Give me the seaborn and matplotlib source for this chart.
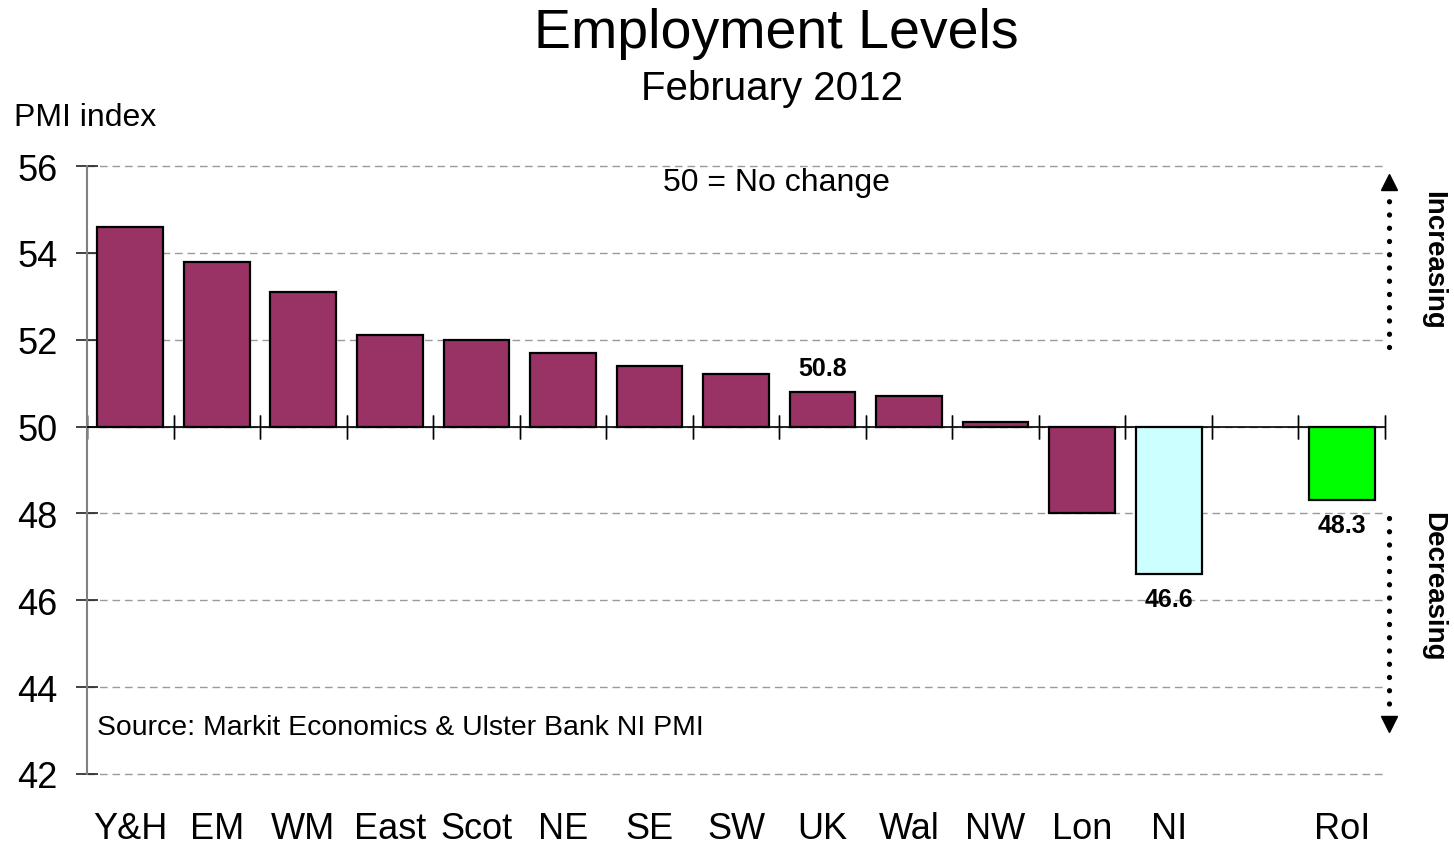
import matplotlib
matplotlib.use("Agg")
import matplotlib.pyplot as plt
import seaborn as sns
import pandas as pd
import numpy as np
from matplotlib.ticker import FuncFormatter, NullFormatter

# ---- data ----
regions = ["Y&H", "EM", "WM", "East", "Scot", "NE", "SE", "SW", "UK", "Wal", "NW", "Lon", "NI", "RoI"]
values = [54.6, 53.8, 53.1, 52.1, 52.0, 51.7, 51.4, 51.2, 50.8, 50.7, 50.1, 48.0, 46.6, 48.3]
slot_order = ["Y&H", "EM", "WM", "East", "Scot", "NE", "SE", "SW", "UK", "Wal", "NW", "Lon", "NI", " ", "RoI"]
labelled = {"UK": 50.8, "NI": 46.6, "RoI": 48.3}
baseline = 50
y_ticks = [42, 44, 46, 48, 50, 52, 54, 56]

# ---- style ----
bar_colors = {r: "#993366" for r in regions}
bar_colors["NI"] = "#CCFFFF"
bar_colors["RoI"] = "#00FF00"

sns.set_theme(style="white")
plt.rcParams["font.family"] = ["Liberation Sans", "DejaVu Sans"]
plt.rcParams["text.color"] = "black"
plt.rcParams["xtick.color"] = "black"
plt.rcParams["ytick.color"] = "black"
plt.rcParams["axes.labelcolor"] = "black"

df = pd.DataFrame({"region": regions, "value": values})
df["dev"] = df["value"] - baseline

W, H = 1454, 845
fig = plt.figure(figsize=(W / 100, H / 100), dpi=100)
ax = fig.add_axes([87 / W, 1 - 775 / H, (1385 - 87) / W, (775 - 167) / H])

sns.barplot(data=df, x="region", y="dev", hue="region", order=slot_order,
            palette=bar_colors, saturation=1, width=0.76, edgecolor="black", linewidth=1.6,
            legend=False, ax=ax, zorder=3)

ylo, yhi = y_ticks[0] - baseline, y_ticks[-1] - baseline
ax.set_ylim(ylo, yhi)
ax.set_xlim(-0.5, len(slot_order) - 0.5)
ax.set_yticks([t - baseline for t in y_ticks])
ax.yaxis.set_major_formatter(FuncFormatter(lambda v, p: f"{v + baseline:.0f}"))
ax.set_xlabel("")
ax.set_ylabel("")

# gridlines
ax.yaxis.grid(True, linestyle=(0, (5.5, 3.5)), color="#9a9a9a", linewidth=1.0, zorder=0)
for gl in ax.get_ygridlines():
    gl.set_clip_on(False)
ax.xaxis.grid(False)

for s in ["top", "right", "bottom"]:
    ax.spines[s].set_visible(False)
ax.spines["left"].set_color("#808080")
ax.spines["left"].set_linewidth(1.5)

ax.tick_params(axis="y", direction="inout", length=16, width=1.2, color="#222222",
               labelsize=26, pad=13, left=True)
ax.tick_params(axis="x", length=0, labelsize=26, pad=27, bottom=True)

# zero (50) axis line with crossing ticks at slot boundaries
ax.axhline(0, color="black", linewidth=1.2, zorder=4)
secax = ax.secondary_xaxis((0 - ylo) / (yhi - ylo))
secax.set_xticks(np.arange(-0.5, len(slot_order), 1.0))
secax.xaxis.set_major_formatter(NullFormatter())
secax.tick_params(axis="x", which="both", direction="inout", length=17, width=1.0, color="black",
                  labelbottom=False, labeltop=False, bottom=True, top=True)
for s in ["left", "right", "top", "bottom"]:
    secax.spines[s].set_visible(False)

# value labels
for name, val in labelled.items():
    xi = slot_order.index(name)
    d = val - baseline
    off = 24 if d > 0 else -25
    ax.annotate(f"{val:.1f}", xy=(xi, d), xytext=(0, off), textcoords="offset pixels",
                ha="center", va="center", fontsize=18, fontweight="bold", zorder=5)

# texts
def ftext(x, y, s, **kw):
    fig.text(x / W, 1 - y / H, s, **kw)

ftext(776, 34, "Employment Levels", ha="center", va="center", fontsize=40)
ftext(772, 89, "February 2012", ha="center", va="center", fontsize=29)
ftext(14, 118, "PMI index", ha="left", va="center", fontsize=23)
ftext(776, 183, "50 = No change", ha="center", va="center", fontsize=23)
ftext(97, 728, "Source: Markit Economics & Ulster Bank NI PMI", ha="left", va="center", fontsize=20.4)
ftext(1433, 260, "Increasing", ha="center", va="center", fontsize=20, fontweight="bold", rotation=-90)
ftext(1433, 587, "Decreasing", ha="center", va="center", fontsize=20, fontweight="bold", rotation=-90)

# dotted arrows
dot_style = dict(color="black", linewidth=3.8, linestyle=(0, (0.01, 2.5)),
                 solid_capstyle="round", dash_capstyle="round")
x_arr = 1389 / W
fig.add_artist(plt.Line2D([x_arr, x_arr], [1 - 348 / H, 1 - 192 / H], transform=fig.transFigure, **dot_style))
fig.add_artist(plt.Line2D([x_arr], [1 - 183 / H], transform=fig.transFigure, marker="^",
                          markersize=12, color="black", linestyle="none"))
fig.add_artist(plt.Line2D([x_arr, x_arr], [1 - 519 / H, 1 - 716 / H], transform=fig.transFigure, **dot_style))
fig.add_artist(plt.Line2D([x_arr], [1 - 725 / H], transform=fig.transFigure, marker="v",
                          markersize=12, color="black", linestyle="none"))

fig.savefig("out.png", dpi=100, facecolor="white")
